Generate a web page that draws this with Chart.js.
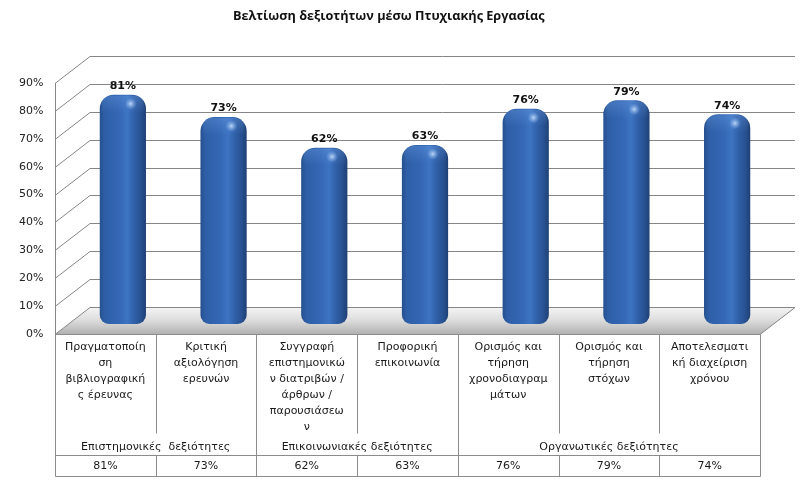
<!DOCTYPE html>
<html>
<head>
<meta charset="utf-8">
<script src="https://cdn.jsdelivr.net/npm/chart.js@4.4.0/dist/chart.umd.min.js"></script>
<style>
  html, body { margin: 0; padding: 0; background: #fff; }
  #wrap { width: 810px; height: 483px; }
</style>
</head>
<body>
<div id="wrap"><canvas id="myChart"></canvas></div>
<script>
// category labels, already split the way the table wraps them
const categories = [
  ['Πραγματοποίη', 'ση', 'βιβλιογραφική', 'ς έρευνας'],
  ['Κριτική', 'αξιολόγηση', 'ερευνών'],
  ['Συγγραφή', 'επιστημονικώ', 'ν διατριβών /', 'άρθρων /', 'παρουσιάσεω', 'ν'],
  ['Προφορική', 'επικοινωνία'],
  ['Ορισμός και', 'τήρηση', 'χρονοδιαγραμ', 'μάτων'],
  ['Ορισμός και', 'τήρηση', 'στόχων'],
  ['Αποτελεσματι', 'κή διαχείριση', 'χρόνου']
];
const values = [81, 73, 62, 63, 76, 79, 74];
const groupLabels = ['Επιστημονικές  δεξιότητες', 'Επικοινωνιακές δεξιότητες', 'Οργανωτικές δεξιότητες'];
const groupSpans = [2, 2, 3];
const titleText = 'Βελτίωση δεξιοτήτων μέσω Πτυχιακής Εργασίας';

const ctx = document.getElementById('myChart');
const FONT = 'DejaVu Sans';
const DX = 17.5, DY = 13.5;   // half depth of the 3d box
const LINE = '#868686';
const TABLE_LINE = '#8c8c8c';

function barFill(c) {
  const chart = c.chart;
  const ca = chart.chartArea;
  if (!ca) return '#2f62ad';
  const cx = chart.scales.x.getPixelForValue(c.dataIndex);
  const hw = ca.width / values.length * 0.51 * 0.9 / 2;
  const g = chart.ctx.createLinearGradient(cx - hw, 0, cx + hw, 0);
  g.addColorStop(0, '#26508e');
  g.addColorStop(0.1, '#2e5ea6');
  g.addColorStop(0.42, '#3467b5');
  g.addColorStop(0.6, '#3d74c2');
  g.addColorStop(0.72, '#3263ad');
  g.addColorStop(0.9, '#27508f');
  g.addColorStop(1, '#1f4074');
  return g;
}

const scene3d = {
  id: 'scene3d',
  beforeDatasetsDraw(chart) {
    const { ctx: c, chartArea: ca, scales: { y } } = chart;
    const fl = ca.left - DX, fr = ca.right - DX, bl = ca.left + DX, br = ca.right + DX;
    const y0 = Math.round(y.getPixelForValue(0)) + 0.5;
    c.save();
    // floor
    const g = c.createLinearGradient(0, y0 - 2 * DY, 0, y0);
    g.addColorStop(0, '#f4f4f4');
    g.addColorStop(0.45, '#dedede');
    g.addColorStop(1, '#b0b0b0');
    c.fillStyle = g;
    c.beginPath();
    c.moveTo(fl, y0); c.lineTo(bl, y0 - 2 * DY); c.lineTo(br, y0 - 2 * DY); c.lineTo(fr, y0);
    c.closePath();
    c.fill();
    // grid lines on side wall and back wall
    c.strokeStyle = LINE;
    c.lineWidth = 1;
    y.ticks.forEach(t => {
      const py = Math.round(y.getPixelForValue(t.value)) + 0.5;
      c.beginPath();
      c.moveTo(fl, py); c.lineTo(bl, py - 2 * DY); c.lineTo(br, py - 2 * DY);
      c.stroke();
    });
    // front edge of the side wall and right edge of the floor
    c.beginPath();
    c.moveTo(Math.round(fl) + 0.5, Math.round(y.getPixelForValue(y.max)));
    c.lineTo(Math.round(fl) + 0.5, y0);
    c.moveTo(fr, y0); c.lineTo(br, y0 - 2 * DY);
    c.stroke();
    c.restore();
  },
  afterDatasetsDraw(chart) {
    const c = chart.ctx;
    const meta = chart.getDatasetMeta(0);
    c.save();
    meta.data.forEach((bar, i) => {
      const { x: bx, y: by, width: bw } = bar.getProps(['x', 'y', 'width'], true);
      // lighter top cap
      const cap = c.createLinearGradient(0, by, 0, by + 18);
      cap.addColorStop(0, 'rgba(120,170,235,0.3)');
      cap.addColorStop(1, 'rgba(120,170,235,0)');
      c.fillStyle = cap;
      c.beginPath();
      c.moveTo(bx - bw / 2 + 2, by + 18);
      c.lineTo(bx - bw / 2 + 2, by + 11);
      c.quadraticCurveTo(bx - bw / 2 + 2, by + 1, bx - bw / 2 + 13, by + 1);
      c.lineTo(bx + bw / 2 - 13, by + 1);
      c.quadraticCurveTo(bx + bw / 2 - 2, by + 1, bx + bw / 2 - 2, by + 11);
      c.lineTo(bx + bw / 2 - 2, by + 18);
      c.closePath();
      c.fill();
      // soft glint
      const gx = bx + bw * 0.17, gy = by + 9;
      const rg = c.createRadialGradient(gx, gy, 0, gx, gy, 6);
      rg.addColorStop(0, 'rgba(210,230,255,0.85)');
      rg.addColorStop(1, 'rgba(140,185,245,0)');
      c.fillStyle = rg;
      c.beginPath();
      c.arc(gx, gy, 6, 0, Math.PI * 2);
      c.fill();
      // value label
      c.fillStyle = '#111';
      c.font = 'bold 11px "' + FONT + '"';
      c.textAlign = 'center';
      c.textBaseline = 'middle';
      c.fillText(values[i] + '%', bx, by - 8.5);
    });
    c.restore();
  },
  afterDraw(chart) {
    const { ctx: c, chartArea: ca, scales: { x, y } } = chart;
    const n = categories.length;
    const colW = ca.width / n;
    const left = ca.left - DX;
    const top = Math.round(y.getPixelForValue(0)) + 0.5;
    const groupTop = top + 99, valTop = top + 121, bottom = top + 142;
    const colX = i => Math.round(left + i * colW) + 0.5;
    c.save();
    c.strokeStyle = TABLE_LINE;
    c.lineWidth = 1;
    c.beginPath();
    // horizontal rules
    c.moveTo(colX(0), top); c.lineTo(colX(n), top);
    c.moveTo(colX(0), valTop); c.lineTo(colX(n), valTop);
    c.moveTo(colX(0), bottom); c.lineTo(colX(n), bottom);
    // column rules: full height at group edges, short inside groups
    const edges = [0];
    groupSpans.reduce((acc, s) => { edges.push(acc + s); return acc + s; }, 0);
    for (let i = 0; i <= n; i++) {
      const full = edges.includes(i);
      c.moveTo(colX(i), top);
      c.lineTo(colX(i), full ? bottom : groupTop);
      if (!full) { c.moveTo(colX(i), valTop); c.lineTo(colX(i), bottom); }
    }
    c.stroke();

    c.fillStyle = '#1a1a1a';
    c.font = '11px "' + FONT + '"';
    c.textAlign = 'center';
    c.textBaseline = 'middle';
    categories.forEach((lines, i) => {
      const cx = x.getPixelForValue(i) - DX;
      lines.forEach((ln, k) => c.fillText(ln, cx, top + 13 + k * 16));
      c.fillText(values[i] + '%', cx, valTop + 10.5);
    });
    let start = 0;
    groupLabels.forEach((lab, g) => {
      const cx = left + (start + groupSpans[g] / 2) * colW;
      c.fillText(lab, cx, groupTop + 14);
      start += groupSpans[g];
    });
    c.restore();
  }
};

new Chart(ctx, {
  type: 'bar',
  data: {
    labels: categories,
    datasets: [{
      label: 'Βελτίωση',
      data: values,
      yAxisID: 'yb',
      base: -1.2,
      backgroundColor: barFill,
      borderWidth: 0,
      borderSkipped: false,
      borderRadius: { topLeft: 14, topRight: 14, bottomLeft: 9, bottomRight: 9 },
      barPercentage: 0.9,
      categoryPercentage: 0.51
    }]
  },
  options: {
    responsive: true,
    maintainAspectRatio: false,
    animation: false,
    layout: { padding: { left: 0, right: 32.5, top: 0, bottom: 149 } },
    plugins: {
      legend: { display: false },
      tooltip: { enabled: false },
      title: {
        display: true,
        text: titleText,
        color: '#111',
        font: { family: 'Open Sans', size: 12.7, weight: 'bold', lineHeight: 1.2 },
        padding: { top: 9, bottom: 58.8 }
      }
    },
    scales: {
      x: { display: false },
      y: {
        position: 'left',
        min: 0,
        max: 90,
        ticks: {
          stepSize: 10,
          padding: 29,
          color: '#222',
          font: { family: FONT, size: 11 },
          callback: v => v + '%'
        },
        grid: { display: false, drawTicks: false },
        border: { display: false },
        afterFit: s => { s.width = 72.5; }
      },
      yb: { display: false, min: -4.8, max: 85.2 }
    }
  },
  plugins: [scene3d]
});
</script>
</body>
</html>
